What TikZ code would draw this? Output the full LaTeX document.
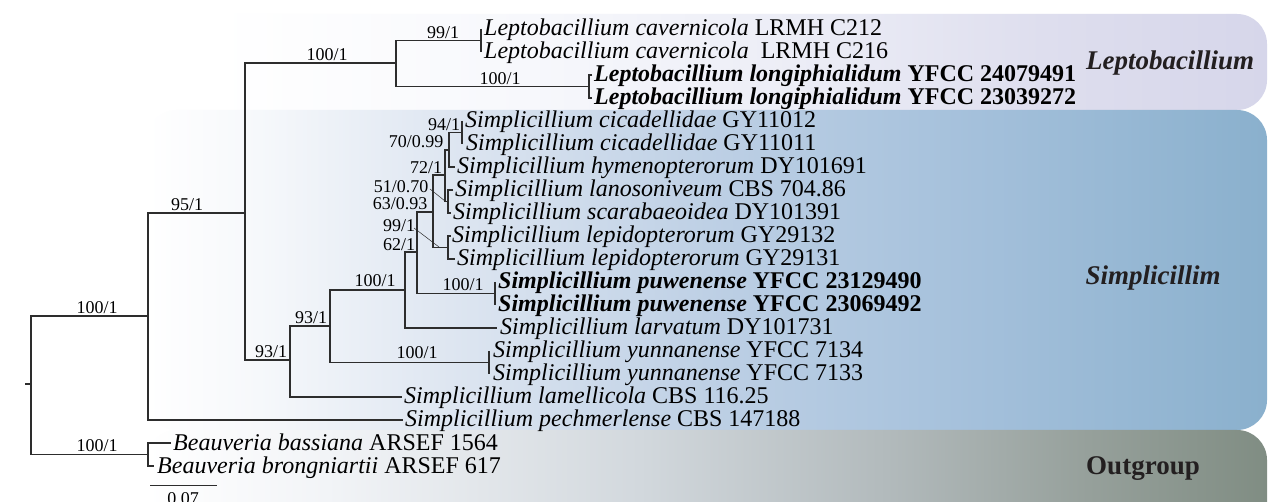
\documentclass[tikz,border=0pt]{standalone}
\usepackage{fontspec}
\setmainfont{Liberation Serif}
\definecolor{lA}{RGB}{247,248,252}
\definecolor{lB}{RGB}{234,235,245}
\definecolor{lC}{RGB}{222,222,238}
\definecolor{lD}{RGB}{214,214,234}
\definecolor{sA}{RGB}{246,248,251}
\definecolor{sB}{RGB}{222,230,241}
\definecolor{sC}{RGB}{190,208,229}
\definecolor{sD}{RGB}{164,192,219}
\definecolor{sE}{RGB}{138,176,205}
\definecolor{oA}{RGB}{242,244,247}
\definecolor{oB}{RGB}{210,216,221}
\definecolor{oC}{RGB}{178,186,188}
\definecolor{oD}{RGB}{150,160,155}
\definecolor{oE}{RGB}{128,141,131}
\definecolor{txt}{RGB}{35,31,32}
\definecolor{branch}{RGB}{45,45,45}
\pgfdeclarehorizontalshading{leptosh}{100bp}{color(0bp)=(white); color(28bp)=(white); color(42bp)=(lA); color(56bp)=(lB); color(65bp)=(lC); color(75bp)=(lD); color(100bp)=(lD)}
\pgfdeclarehorizontalshading{simpsh}{100bp}{color(0bp)=(white); color(25bp)=(white); color(30bp)=(sA); color(38.5bp)=(sB); color(50bp)=(sC); color(62bp)=(sD); color(75bp)=(sE); color(100bp)=(sE)}
\pgfdeclarehorizontalshading{outsh}{100bp}{color(0bp)=(white); color(25bp)=(white); color(33bp)=(oA); color(47bp)=(oB); color(58bp)=(oC); color(67bp)=(oD); color(75bp)=(oE); color(100bp)=(oE)}
\tikzset{
  tiptext/.style={anchor=base west, inner sep=0pt, font=\fontsize{24}{28}\selectfont},
  bs/.style={anchor=base, inner sep=0pt, font=\fontsize{18}{21}\selectfont},
  clade/.style={anchor=base, inner sep=0pt, text=txt, font=\fontsize{27}{32}\selectfont\bfseries},
  br/.style={draw=branch, line width=1.1pt},
  lead/.style={draw=branch, line width=0.5pt},
  band/.style={rounded corners=30pt}
}
\begin{document}
\begin{tikzpicture}[x=1pt,y=-1pt]
\useasboundingbox (0,0) rectangle (1272,502);
\fill[white] (0,0) rectangle (1272,502);
% bands
\path[band, shading=leptosh] (147,14) rectangle (1267,110);
\path[band, shading=simpsh] (147,110) rectangle (1267,430);
\path[band, shading=outsh] (147,430) rectangle (1267,570);
\node[clade] (cL) at (1170,70) {\itshape Leptobacillium};
\node[clade] (cS) at (1153,285) {\itshape Simplicillim};
\node[clade] (cO) at (1143,475) {Outgroup};
% internal nodes
\coordinate (R0) at (25,384);
\coordinate (R) at (31,384);
\coordinate (A) at (148,316);
\coordinate (OG) at (148,454.5);
\coordinate (B) at (245,213);
\coordinate (L) at (396,63);
\coordinate (Lc) at (481,40.5);
\coordinate (Ll) at (589,86.5);
\coordinate (S1) at (290,360);
\coordinate (S2) at (330,326);
\coordinate (S3) at (405,290);
\coordinate (S4) at (417,252);
\coordinate (S5) at (433,212);
\coordinate (S6) at (445,175);
\coordinate (S7) at (449,150);
\coordinate (C) at (462,132.5);
\coordinate (LS) at (448,201.5);
\coordinate (Lp) at (448,247.5);
\coordinate (P) at (495,293.5);
\coordinate (Y) at (489,362.5);
% tip ends
\coordinate (e0) at (481,29);  \coordinate (e1) at (481,52);
\coordinate (e2) at (589,75);  \coordinate (e3) at (589,98);
\coordinate (f2) at (592,75);  \coordinate (f3) at (592,98);
\coordinate (e4) at (462,121); \coordinate (e5) at (462,144);
\coordinate (e6) at (455,167);
\coordinate (e7a) at (448,190); \coordinate (e7) at (453,190);
\coordinate (e8a) at (448,213); \coordinate (e8) at (451,213);
\coordinate (e9a) at (448,236); \coordinate (e9) at (451,236);
\coordinate (e10a) at (448,259); \coordinate (e10) at (455,259);
\coordinate (e11) at (495,282); \coordinate (e12) at (495,305);
\coordinate (e13) at (497,328);
\coordinate (e14) at (489,351); \coordinate (e15) at (489,374);
\coordinate (e16) at (402,397);
\coordinate (e17) at (403,420);
\coordinate (e18a) at (148,443); \coordinate (e18) at (171,443);
\coordinate (e19a) at (148,466); \coordinate (e19) at (154,466);
% branches
\draw[br] (R0) -- (R);
\draw[br] (R) |- (A);
\draw[br] (R) |- (OG);
\draw[br] (A) |- (B);
\draw[br] (A) |- (e17);
\draw[br] (B) |- (L);
\draw[br] (B) |- (S1);
\draw[br] (L) |- (Lc);
\draw[br] (L) |- (Ll);
\draw[br] (e0) -- (e1);
\draw[br] (f2) -| (e2) -- (e3) -| (f3);
\draw[br] (S1) |- (S2);
\draw[br] (S1) |- (e16);
\draw[br] (S2) |- (S3);
\draw[br] (S2) |- (Y);
\draw[br] (e14) -- (e15);
\draw[br] (S3) |- (S4);
\draw[br] (S3) |- (e13);
\draw[br] (S4) |- (S5);
\draw[br] (S4) |- (P);
\draw[br] (e11) -- (e12);
\draw[br] (S5) |- (S6);
\draw[br] (S5) |- (Lp);
\draw[br] (e9) -- (e9a) -- (e10a) -- (e10);
\draw[br] (S6) |- (S7);
\draw[br] (S6) |- (LS);
\draw[br] (e7) -- (e7a) -- (e8a) -- (e8);
\draw[br] (S7) |- (C);
\draw[br] (S7) |- (e6);
\draw[br] (e4) -- (e5);
\draw[br] (e18) -- (e18a) -- (e19a) -- (e19);
% tips
\node[tiptext] (t0) at (484,36) {\textit{Leptobacillium cavernicola} LRMH C212};
\node[tiptext] (t1) at (484,59) {\textit{Leptobacillium cavernicola}~ LRMH C216};
\node[tiptext] (t2) at (594,82) {\bfseries\textit{Leptobacillium longiphialidum} YFCC 24079491};
\node[tiptext] (t3) at (594,105) {\bfseries\textit{Leptobacillium longiphialidum} YFCC 23039272};
\node[tiptext] (t4) at (465,128) {\textit{Simplicillium cicadellidae} GY11012};
\node[tiptext] (t5) at (466,151) {\textit{Simplicillium cicadellidae} GY11011};
\node[tiptext] (t6) at (457,174) {\textit{Simplicillium hymenopterorum} DY101691};
\node[tiptext] (t7) at (455,197) {\textit{Simplicillium lanosoniveum} CBS 704.86};
\node[tiptext] (t8) at (453,220) {\textit{Simplicillium scarabaeoidea} DY101391};
\node[tiptext] (t9) at (452,243) {\textit{Simplicillium lepidopterorum} GY29132};
\node[tiptext] (t10) at (457,266) {\textit{Simplicillium lepidopterorum} GY29131};
\node[tiptext] (t11) at (498,289) {\bfseries\textit{Simplicillium puwenense} YFCC 23129490};
\node[tiptext] (t12) at (498,312) {\bfseries\textit{Simplicillium puwenense} YFCC 23069492};
\node[tiptext] (t13) at (500,335) {\textit{Simplicillium larvatum} DY101731};
\node[tiptext] (t14) at (493,358) {\textit{Simplicillium yunnanense} YFCC 7134};
\node[tiptext] (t15) at (493,381) {\textit{Simplicillium yunnanense} YFCC 7133};
\node[tiptext] (t16) at (404,404) {\textit{Simplicillium lamellicola} CBS 116.25};
\node[tiptext] (t17) at (405,427) {\textit{Simplicillium pechmerlense} CBS 147188};
\node[tiptext] (t18) at (173,450) {\textit{Beauveria bassiana} ARSEF 1564};
\node[tiptext] (t19) at (157,473) {\textit{Beauveria brongniartii} ARSEF 617};
% support values
\node[bs] (b1) at (97,314) {100/1};
\node[bs] (b2) at (97,451) {100/1};
\node[bs] (b3) at (187,211) {95/1};
\node[bs] (b4) at (327,61) {100/1};
\node[bs] (b5) at (443,39) {99/1};
\node[bs] (b6) at (500,85) {100/1};
\node[bs] (b7) at (271,358) {93/1};
\node[bs] (b8) at (311,324) {93/1};
\node[bs] (b9) at (375,287) {100/1};
\node[bs] (b10) at (417,359) {100/1};
\node[bs] (b11) at (463,291) {100/1};
\node[bs] (b12) at (399,251) {62/1};
\node[bs] (b13) at (400,210) {63/0.93};
\node[bs] (b14) at (426,174) {72/1};
\node[bs] (b15) at (416,148) {70/0.99};
\node[bs] (b16) at (444,131) {94/1};
\node[bs] (b17) at (401,193) {51/0.70};
\node[bs] (b18) at (399,232) {99/1};
% leaders
\coordinate (k1) at (430,189); \coordinate (k2) at (445,201);
\coordinate (k3) at (414,228); \coordinate (k4) at (439,247);
\draw[lead] (k1) -- (k2);
\draw[lead] (k3) -- (k4);
% scale bar
\coordinate (sb0) at (150,485); \coordinate (sb1) at (217,485);
\draw[br, line width=0.9pt] (sb0) -- (sb1);
\node[bs] (sbl) at (183,504) {0.07};
\end{tikzpicture}
\end{document}
